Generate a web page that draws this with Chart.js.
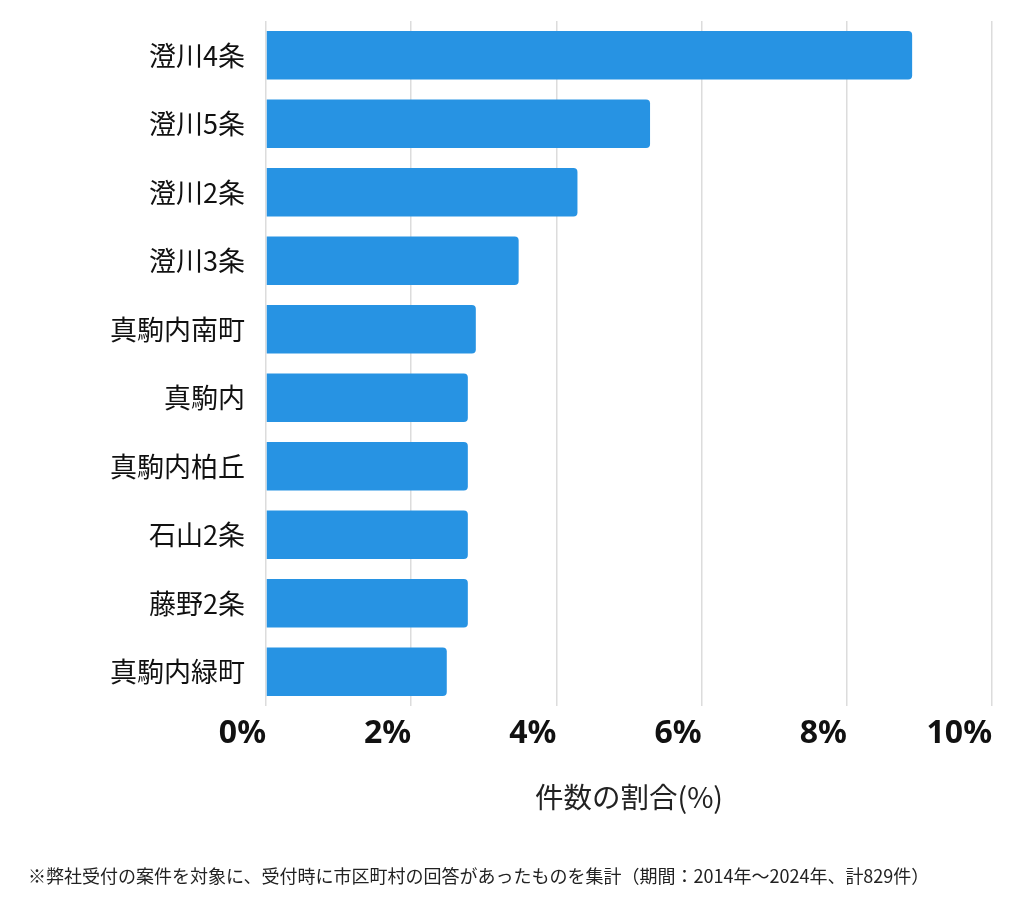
<!DOCTYPE html>
<html lang="ja">
<head>
<meta charset="utf-8">
<script src="https://cdn.jsdelivr.net/npm/chart.js@4/dist/chart.umd.min.js"></script>
<style>
  html, body { margin: 0; padding: 0; background: #fff; }
  #wrap { width: 1024px; height: 912px; position: relative; }
</style>
</head>
<body>
<div id="wrap"><canvas id="areaChart"></canvas></div>
<script>
// data
const areas = ["澄川4条", "澄川5条", "澄川2条", "澄川3条", "真駒内南町", "真駒内", "真駒内柏丘", "石山2条", "藤野2条", "真駒内緑町"];
const shares = [8.90, 5.29, 4.29, 3.48, 2.89, 2.78, 2.78, 2.78, 2.78, 2.49];
const xTicks = [0, 2, 4, 6, 8, 10];
const axisTitle = "件数の割合(%)";
const footnote = "※弊社受付の案件を対象に、受付時に市区町村の回答があったものを集計（期間：2014年〜2024年、計829件）";

const CJK = '"Noto Sans CJK JP", "Noto Sans", sans-serif';

// footnote at the bottom of the canvas
const footnotePlugin = {
  id: "footnote",
  afterDraw(chart) {
    const c = chart.ctx;
    c.save();
    c.font = "18px " + CJK;
    c.fillStyle = "#222";
    c.textAlign = "left";
    c.textBaseline = "middle";
    c.fillText(footnote, 28, 876);
    c.restore();
  }
};

const ctx = document.getElementById("areaChart").getContext("2d");
new Chart(ctx, {
  type: "bar",
  data: {
    labels: areas,
    datasets: [{
      data: shares,
      backgroundColor: "#2793e3",
      borderRadius: 4,
      borderSkipped: "start",
      barPercentage: 0.71,
      categoryPercentage: 1
    }]
  },
  options: {
    indexAxis: "y",
    responsive: true,
    maintainAspectRatio: false,
    animation: false,
    layout: { padding: { top: 21, right: 32, bottom: 80, left: 0 } },
    plugins: {
      legend: { display: false },
      tooltip: { enabled: false }
    },
    scales: {
      x: {
        min: 0,
        max: 10,
        afterBuildTicks: (scale) => { scale.ticks = xTicks.map(v => ({ value: v })); },
        afterFit: (scale) => { scale.height = 126; scale.paddingLeft = 0; scale.paddingRight = 0; },
        grid: { color: "#dcdcdc", lineWidth: 1.5, drawTicks: false },
        border: { display: false },
        ticks: {
          align: "end",
          padding: 9,
          color: "#111",
          font: { family: '"Noto Sans", sans-serif', size: 32, weight: "bold" },
          callback: (v) => v + "%"
        },
        title: {
          display: true,
          text: axisTitle,
          color: "#222",
          padding: { top: 0, bottom: 18 },
          font: { family: CJK, size: 28.5 }
        }
      },
      y: {
        afterFit: (scale) => { scale.width = 266; scale.paddingTop = 0; scale.paddingBottom = 0; },
        grid: { display: false, drawTicks: false },
        border: { display: false },
        ticks: {
          padding: 21,
          color: "#111",
          font: { family: CJK, size: 27 }
        }
      }
    }
  },
  plugins: [footnotePlugin]
});
</script>
</body>
</html>
